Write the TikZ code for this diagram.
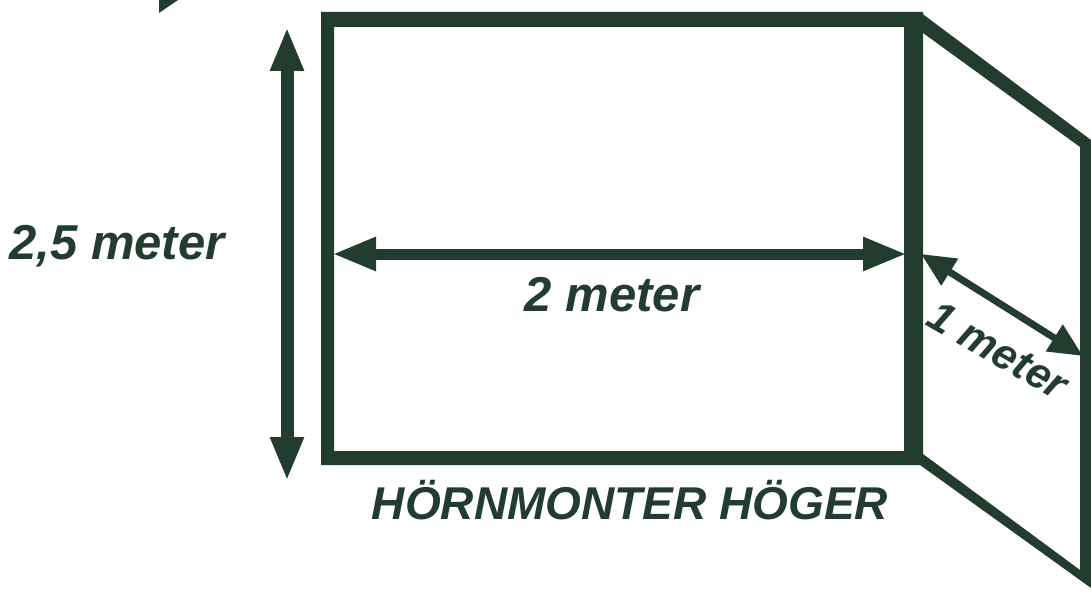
\documentclass[tikz,border=0pt]{standalone}
\usepackage{fontspec}
\setmainfont{Liberation Sans}
\usetikzlibrary{arrows.meta}
\definecolor{dg}{HTML}{233C30}
\tikzset{
  panel/.style={fill=dg,draw=none},
  dima/.style={draw=dg,line width=#1,{Triangle[length=44pt,width=31pt]}-{Triangle[length=44pt,width=31pt]}},
  dimb/.style={draw=dg,line width=7pt,{Triangle[length=34pt,width=30pt]}-{Triangle[length=34pt,width=30pt]}},
  lab/.style={text=dg,font=\bfseries\itshape\fontsize{#1}{#1}\selectfont,inner sep=0pt}
}
\begin{document}
\begin{tikzpicture}[x=1pt,y=-1pt]
\useasboundingbox (0,0) rectangle (1091,591);
% main frame
\fill[panel,even odd rule] (321,12) rectangle (923,465) (334,27) rectangle (904,451);
% side panel
\fill[panel] (920,12) -- (1091,140) -- (1091,588) -- (920,465) -- (923,454) -- (1080,570) -- (1080,147) -- (923,33) -- cycle;
% top-left fragment
\fill[panel] (159,13) -- (159,0) -- (178,0) -- cycle;
% dimension arrows
\coordinate (vt) at (287,27);
\coordinate (vb) at (287,481);
\coordinate (hl) at (332,254);
\coordinate (hr) at (907,254);
\coordinate (dl) at (921,254);
\coordinate (dr) at (1083,356);
\draw[dima=13pt] (vt) -- (vb);
\draw[dima=11pt] (hl) -- (hr);
\draw[dimb] (dl) -- (dr);
% labels
\node[lab=49,anchor=base] (h) at (117,259) {2,5 meter};
\node[lab=49,anchor=base] (w) at (612,311) {2 meter};
\node[lab=43,anchor=base,rotate=-30] (d) at (991,363) {1 meter};
\node[lab=46,anchor=base] (t) at (630,519) {HÖRNMONTER HÖGER};
\end{tikzpicture}
\end{document}
